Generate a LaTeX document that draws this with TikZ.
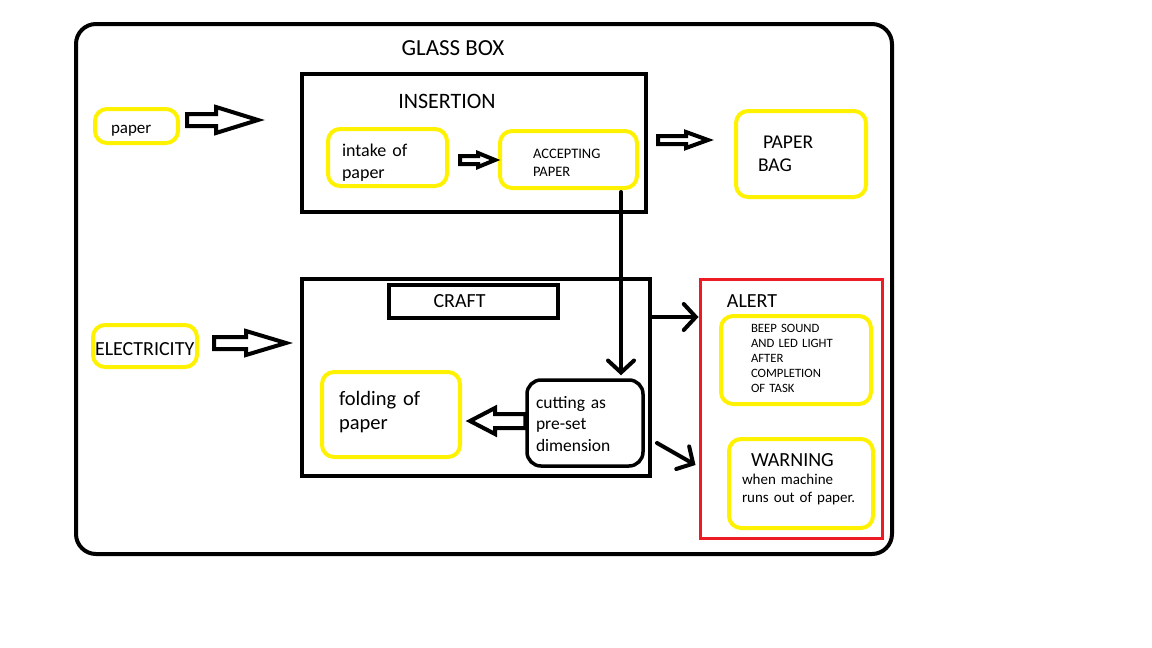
\documentclass[tikz,border=0pt]{standalone}
\usepackage{fontspec}
\setmainfont{Carlito}
\usetikzlibrary{calc,arrows.meta}
\definecolor{pyellow}{HTML}{FFF200}
\definecolor{pred}{HTML}{ED1C24}
\newcommand\fs[2]{\fontsize{#1}{#2}\selectfont}
\newcommand\blockarr[5]{%
  \draw[blk] let \p1=(#1), \p2=(#2) in
    (\x1,\y1+#3) -- (\x2-#5,\y1+#3) -- (\x2-#5,\y1+#4) -- (\x2,\y1)
    -- (\x2-#5,\y1-#4) -- (\x2-#5,\y1-#3) -- (\x1,\y1-#3) -- cycle;}
\begin{document}
\begin{tikzpicture}[x=1pt,y=-1pt,
  bbox/.style={draw=black, line width=4pt, inner sep=0pt},
  ybox/.style={draw=pyellow, line width=4pt, rounded corners=12pt, inner sep=0pt},
  txt/.style={align=left, inner sep=0pt},
  blk/.style={draw=black, fill=white, line width=4pt, line join=miter},
  conn/.style={draw=black, line width=4pt, line cap=round, -{Straight Barb[length=12pt,width=26pt,line cap=round]}}]
\useasboundingbox[fill=white] (0,0) rectangle (1152,648);

% glass box
\node[bbox, rounded corners=20pt, minimum width=816pt, minimum height=530pt] (glass) at (484,289) {};
\node[font=\fs{23}{28}] (glasst) at (453,48) {GLASS BOX};

% insertion
\node[bbox, minimum width=344pt, minimum height=138pt] (ins) at (474,143) {};
\node[font=\fs{22}{26}] (inst) at (447,101) {INSERTION};
\node[ybox, minimum width=83pt, minimum height=34pt] (paper) at (136.5,126) {};
\node[txt, text width=51pt, font=\fs{17}{20}, yshift=-5pt] (papert) at (paper) {paper};
\node[ybox, minimum width=119pt, minimum height=57pt] (intake) at (387.5,157.5) {};
\node[txt, text width=91pt, font=\fs{18}{22}, yshift=-5pt] (intaket) at (intake) {intake of\\paper};
\node[ybox, minimum width=137pt, minimum height=57pt] (accept) at (568.5,159.5) {};
\node[txt, text width=71pt, font=\fs{14.5}{18}, yshift=-3pt] (acceptt) at (accept) {ACCEPTING\\PAPER};
\node[ybox, minimum width=130pt, minimum height=86pt] (bag) at (801,154) {};
\node[txt, text width=86pt, font=\fs{19.5}{23}] (bagt) at (bag) {\hspace*{5pt}PAPER\\BAG};

% craft
\node[bbox, minimum width=348pt, minimum height=197pt] (craft) at (476,377.5) {};
\node[bbox, minimum width=169pt, minimum height=33pt] (craftt) at (473.5,301.5) {};
\node[txt, text width=80pt, font=\fs{20}{24}] (craftl) at (craftt) {CRAFT};
\node[ybox, minimum width=104pt, minimum height=42pt] (elec) at (145,346) {};
\node[txt, text width=100pt, font=\fs{20}{24}, yshift=-3pt] (elect) at (elec) {ELECTRICITY};
\node[ybox, minimum width=138pt, minimum height=85pt] (fold) at (391,414.5) {};
\node[txt, text width=104pt, font=\fs{20.5}{24}, yshift=2pt] (foldt) at (fold) {folding of\\paper};
\node[bbox, line width=3.5pt, rounded corners=14pt, minimum width=116pt, minimum height=86pt] (cut) at (585,423) {};
\node[txt, text width=98pt, font=\fs{17.5}{21.7}, yshift=-1pt] (cutt) at (cut) {cutting as\\pre-set\\dimension};

% alert
\node[draw=pred, line width=3pt, inner sep=0pt, minimum width=182pt, minimum height=259pt] (alert) at (791,408.5) {};
\node[font=\fs{20}{24}] (alertt) at (752,301) {ALERT};
\node[ybox, minimum width=150pt, minimum height=88pt] (beep) at (796,360) {};
\node[txt, text width=90pt, font=\fs{12.7}{15}, yshift=2pt] (beept) at (beep) {BEEP SOUND\\AND LED LIGHT\\AFTER\\COMPLETION\\OF TASK};
\node[ybox, minimum width=144pt, minimum height=89pt] (warn) at (801,483.5) {};
\node[txt, text width=118pt, font=\fs{15}{18}, yshift=4pt] (warnt) at (warn) {\hspace*{9pt}{\fs{20}{20}WARNING}\\when machine\\runs out of paper.};

% block arrows
\coordinate (a1s) at ($(paper.east)+(7,-6)$);
\coordinate (a1e) at ($(ins.west)+(-42,-23)$);
\blockarr{a1s}{a1e}{6}{13}{42}
\coordinate (a2s) at ($(intake.east)+(11,2.5)$);
\coordinate (a2e) at ($(accept.west)+(-3,0.5)$);
\blockarr{a2s}{a2e}{4}{7}{17}
\coordinate (a3s) at ($(ins.east)+(10,-3)$);
\coordinate (a3e) at ($(bag.west)+(-26,-14)$);
\blockarr{a3s}{a3e}{4}{8}{22}
\coordinate (a4s) at ($(elec.east)+(15,-3)$);
\coordinate (a4e) at ($(craft.west)+(-14,-34.5)$);
\blockarr{a4s}{a4e}{6}{12}{40}
\coordinate (a5s) at ($(cut.west)+(0,-2)$);
\coordinate (a5e) at ($(fold.east)+(8,6.5)$);
\blockarr{a5s}{a5e}{7}{13}{-25}

% line connectors
\draw[conn] ($(accept.south)+(52.5,2)$) -- ($(cut.north)+(36,-3)$);
\draw[conn] ($(craft.east)+(0,-60.5)$) -- ($(alert.west)+(0,-91.5)$);
\draw[conn] ($(craft.east)+(5,65.5)$) -- ($(alert.west)+(-3,56.5)$);
\end{tikzpicture}
\end{document}
